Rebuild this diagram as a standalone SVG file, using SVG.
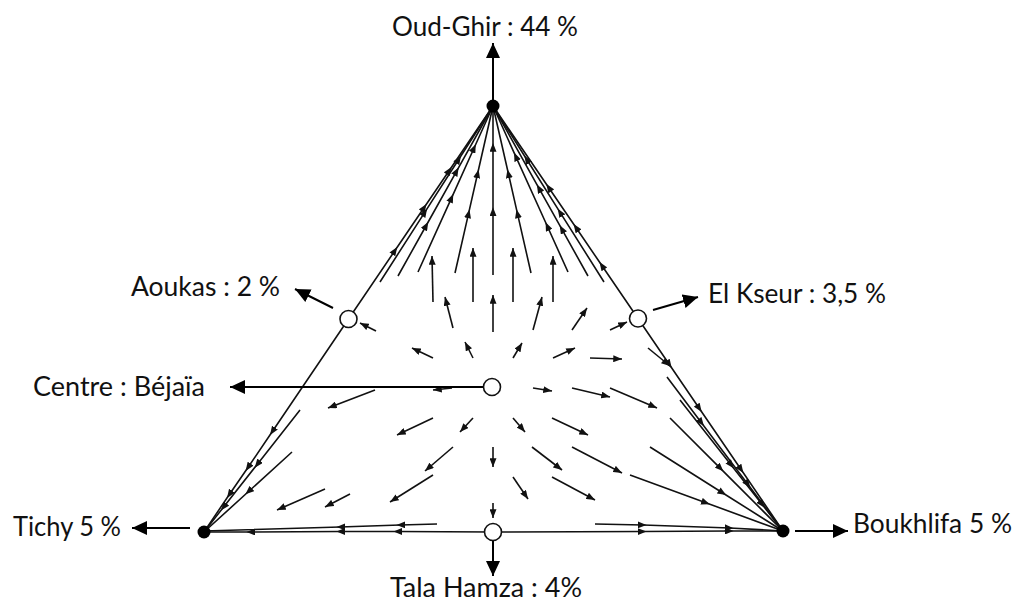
<svg xmlns="http://www.w3.org/2000/svg" width="1016" height="601" viewBox="0 0 1016 601">
<style>
.lbl{font-family:"Lato","Liberation Sans",sans-serif;font-size:27px;fill:#111}
.fl{fill:none;stroke:#111;stroke-width:1.6}
.fm{marker-mid:url(#fm)}
.fe{marker-end:url(#fe)}
.edge{fill:none;stroke:#111;stroke-width:1.6;marker-mid:url(#fm)}
.la{fill:none;stroke:#000;stroke-width:2;marker-end:url(#big)}
.oc{fill:#fff;stroke:#111;stroke-width:1.6}
.dot{fill:#000}
</style>
<defs>
<marker id="fm" viewBox="0 0 10 8" refX="6" refY="4" markerWidth="9" markerHeight="7" markerUnits="userSpaceOnUse" orient="auto"><path d="M0,0 L10,4 L0,8 z" fill="#111"/></marker>
<marker id="fe" viewBox="0 0 10 8" refX="10" refY="4" markerWidth="9" markerHeight="7" markerUnits="userSpaceOnUse" orient="auto"><path d="M0,0 L10,4 L0,8 z" fill="#111"/></marker>
<marker id="big" viewBox="0 0 15 14" refX="15" refY="7" markerWidth="15" markerHeight="14" markerUnits="userSpaceOnUse" orient="auto"><path d="M0,0 L15,7 L0,14 z" fill="#000"/></marker>
</defs>
<rect width="1016" height="601" fill="#fff"/>
<g id="connectors">
<!-- triangle edges with flow heads -->
<path class="edge" d="M348.5,319 L395.3,250 L424.5,207 L449.6,170 L493,106"/>
<path class="edge" d="M348.5,319 L272,432 L247.6,468 L229,495 L204,532"/>
<path class="edge" d="M638,318.5 L601.5,265 L575.6,227 L548.3,187 L493,106"/>
<path class="edge" d="M638,318.5 L669.7,365 L699.7,409 L741.4,470 L783,531"/>
<path class="edge" d="M493,532 L397,531.5 L340,531.5 L250,532 L204,532"/>
<path class="edge" d="M493,532 L643,531.5 L730,531 L783,531"/>
<!-- top fan -->
<path class="fl fm" d="M380,282 L425.2,211.6 L459.1,158.8 L493,106"/>
<path class="fl fm" d="M398,276 L426.5,225 L456.9,170.6 L493,106"/>
<path class="fl fm" d="M418,272 L451.8,197.3 L474.3,147.5 L493,106"/>
<path class="fl fm" d="M455,273 L468.7,212.9 L477.8,172.8 L493,106"/>
<path class="fl fm" d="M493,275 L493,210.8 L493,146.6 L493,106"/>
<path class="fl fm" d="M531,273 L517.3,212.9 L508.2,172.8 L493,106"/>
<path class="fl fm" d="M568,272 L547,225.5 L515.5,155.8 L493,106"/>
<path class="fl fm" d="M588,276 L561.4,228.4 L538.6,187.6 L493,106"/>
<path class="fl fm" d="M604,282 L559.6,211.6 L526.3,158.8 L493,106"/>
<path class="fl fe" d="M433,302 L432,256"/>
<path class="fl fe" d="M473,302 L473,248"/>
<path class="fl fe" d="M513,302 L513,248"/>
<path class="fl fe" d="M553,302 L553,256"/>
<!-- bottom-left fan -->
<path class="fl fm" d="M300,410 L256.8,464.9 L223.2,507.6 L204,532"/>
<path class="fl fm" d="M292,452 L248,492 L204,532"/>
<path class="fl fm" d="M437,524 L400,525 L340,527 L204,531"/>
<!-- bottom-right fan -->
<path class="fl fm" d="M680,400 L731.5,465.5 L762.4,504.8 L783,531"/>
<path class="fl fm" d="M667,377 L701.8,423.2 L748.2,484.8 L783,531"/>
<path class="fl fm" d="M670,418 L720.9,468.9 L783,531"/>
<path class="fl fm" d="M650,447 L723.2,493.2 L783,531"/>
<path class="fl fm" d="M630,475 L706.5,503 L783,531"/>
<path class="fl fm" d="M595,524 L643,525 L730,528 L783,531"/>
<!-- interior short arrows -->
<path class="fl fe" d="M376,331 L360,323"/>
<path class="fl fe" d="M433,358 L412,348"/>
<path class="fl fe" d="M453,328 L445,297"/>
<path class="fl fe" d="M473,358 L465,342"/>
<path class="fl fe" d="M493,332 L493,295"/>
<path class="fl fe" d="M513,358 L522,343"/>
<path class="fl fe" d="M533,330 L542,297"/>
<path class="fl fe" d="M572,330 L587,308"/>
<path class="fl fe" d="M553,358 L575,348"/>
<path class="fl fe" d="M610,330 L627,322"/>
<path class="fl fe" d="M590,358 L622,359"/>
<path class="fl fe" d="M533,388 L552,391"/>
<path class="fl fe" d="M572,388 L610,397"/>
<path class="fl fe" d="M610,388 L657,408"/>
<path class="fl fe" d="M648,348 L670,366"/>
<path class="fl fe" d="M452,388 L433,390"/>
<path class="fl fe" d="M375,390 L328,408"/>
<path class="fl fe" d="M433,418 L397,435"/>
<path class="fl fe" d="M473,418 L460,432"/>
<path class="fl fe" d="M453,447 L425,471"/>
<path class="fl fe" d="M433,475 L390,502"/>
<path class="fl fe" d="M325,489 L277,510"/>
<path class="fl fe" d="M350,494 L325,507"/>
<path class="fl fe" d="M493,447 L493,467"/>
<path class="fl fe" d="M493,503 L493,518"/>
<path class="fl fe" d="M513,418 L525,432"/>
<path class="fl fe" d="M552,418 L588,435"/>
<path class="fl fe" d="M532,447 L562,470"/>
<path class="fl fe" d="M572,447 L622,473"/>
<path class="fl fe" d="M513,477 L528,499"/>
<path class="fl fe" d="M552,477 L595,500"/>
<!-- label arrows -->
<path class="la" d="M493,100 L493,43"/>
<path class="la" d="M333,308 L295,289"/>
<path class="la" d="M653,310 L698,297"/>
<path class="la" d="M483,387 L230,387"/>
<path class="la" d="M190,528 L132,528"/>
<path class="la" d="M795,531 L848,531"/>
<path class="la" d="M493,541 L493,576"/>
</g>
<g id="oud-ghir"><circle class="dot" cx="493" cy="106" r="6.5"/><text class="lbl" x="392" y="36" textLength="186" lengthAdjust="spacingAndGlyphs">Oud-Ghir : 44 %</text></g>
<g id="aoukas"><circle class="oc" cx="348.5" cy="319" r="8.5"/><text class="lbl" x="131" y="296" textLength="149" lengthAdjust="spacingAndGlyphs">Aoukas : 2 %</text></g>
<g id="el-kseur"><circle class="oc" cx="638" cy="318.5" r="8.5"/><text class="lbl" x="708" y="303" textLength="178" lengthAdjust="spacingAndGlyphs">El Kseur : 3,5 %</text></g>
<g id="centre"><circle class="oc" cx="492" cy="387" r="8.5"/><text class="lbl" x="33" y="396" textLength="172" lengthAdjust="spacingAndGlyphs">Centre : Béjaïa</text></g>
<g id="tichy"><circle class="dot" cx="204" cy="532" r="6.5"/><text class="lbl" x="13" y="536" textLength="108" lengthAdjust="spacingAndGlyphs">Tichy 5 %</text></g>
<g id="boukhlifa"><circle class="dot" cx="783" cy="531" r="6.5"/><text class="lbl" x="853" y="533" textLength="159" lengthAdjust="spacingAndGlyphs">Boukhlifa 5 %</text></g>
<g id="tala-hamza"><circle class="oc" cx="493" cy="532" r="8.5"/><text class="lbl" x="390" y="597" textLength="192" lengthAdjust="spacingAndGlyphs">Tala Hamza : 4%</text></g>
</svg>
